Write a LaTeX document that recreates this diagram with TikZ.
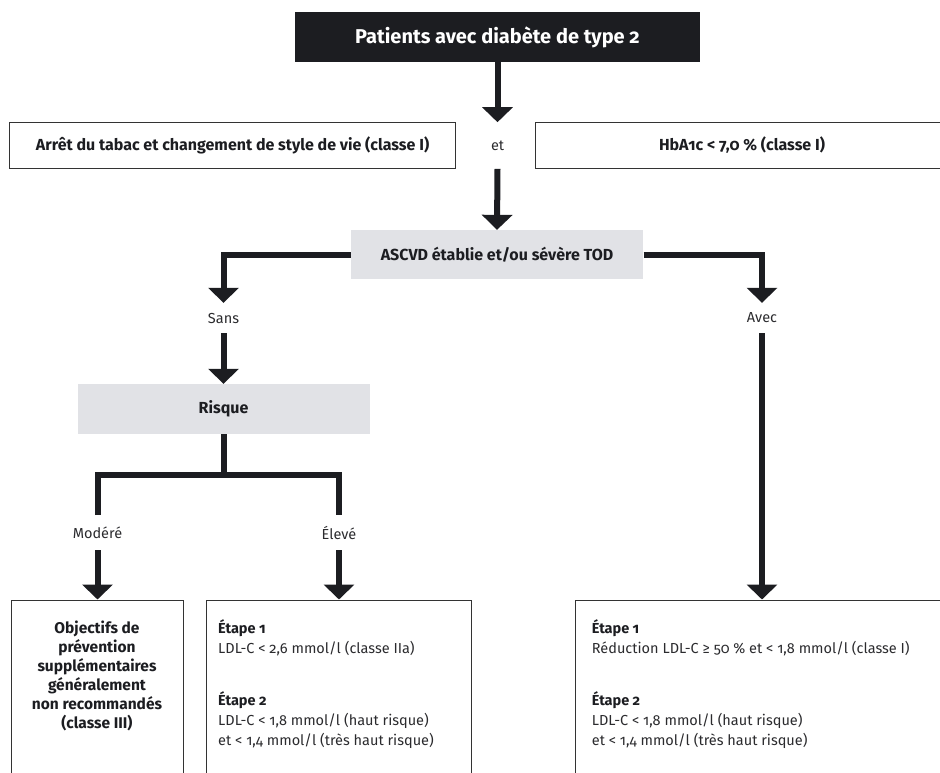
\documentclass[tikz,border=0pt]{standalone}
\usepackage{fontspec}
\setmainfont{Fira Sans}[Numbers={OldStyle,Proportional}]
\usetikzlibrary{arrows.meta}
\definecolor{ink}{HTML}{1C1D21}
\definecolor{txt}{HTML}{2B2B2E}
\definecolor{boxgray}{HTML}{E1E2E6}
\definecolor{edge}{HTML}{333333}
\begin{document}
\begin{tikzpicture}[x=1pt,y=-1pt,line join=miter,
  conn/.style={line width=6pt, draw=ink, -{Triangle[width=30pt,length=15pt]}},
  bar/.style={line width=6pt, draw=ink},
  wbox/.style={draw=edge, line width=1pt, fill=white, inner sep=0pt},
  gbox/.style={fill=boxgray, inner sep=0pt, text=ink, font=\bfseries\fontsize{16}{18}\selectfont},
  boldtxt/.style={text=ink, font=\bfseries\fontsize{16}{18}\selectfont},
  lbl/.style={inner sep=0pt, minimum height=30pt, text=txt, font=\fontsize{14.5}{17}\selectfont},
  body/.style={inner sep=0pt, align=left, text=txt, font=\fontsize{14.5}{19.8}\selectfont},
  ]
\useasboundingbox (0,0) rectangle (940,772);
\clip (0,0) rectangle (940,772);
% boxes
\node[fill=ink, inner sep=0pt, minimum width=405pt, minimum height=50pt, text=white,
  font=\bfseries\fontsize{20}{22}\selectfont] (title) at (497.5,37) {Patients avec diabète de type 2};
\node[wbox, boldtxt, minimum width=446pt, minimum height=45.6pt] (lbox) at (232.6,145.5)
  {Arrêt du tabac et changement de style de vie (classe I)};
\node[lbl] (et) at (497.6,145.5) {et};
\node[wbox, boldtxt, minimum width=414pt, minimum height=45.6pt] (rbox) at (742,145.5)
  {HbA1c < 7,0 \% (classe I)};
\node[gbox, minimum width=292.6pt, minimum height=49.3pt] (ascvd) at (497,254.7)
  {ASCVD établie et/ou sévère TOD};
\node[lbl] (sans) at (223.5,318) {Sans};
\node[lbl] (avec) at (762,318) {Avec};
\node[gbox, minimum width=292pt, minimum height=50pt] (risque) at (223.5,409) {Risque};
\coordinate (split) at (223.5,475);
\node[lbl, minimum height=35pt] (modere) at (97.5,532.7) {Modéré};
\node[lbl, minimum height=35pt] (eleve) at (339,532.7) {Élevé};
\node[wbox, minimum width=172pt, minimum height=190pt] (lb) at (97,695) {};
\node[wbox, minimum width=264.3pt, minimum height=190pt] (mb) at (338.85,695) {};
\node[wbox, minimum width=384.3pt, minimum height=190pt] (rb) at (767.85,695) {};
% box texts
\node[boldtxt, align=center, inner sep=0pt, font=\bfseries\fontsize{15.5}{19}\selectfont] (lbt) at (97,675.5)
  {Objectifs de\\prévention\\supplémentaires\\généralement\\non recommandés\\(classe III)};
\node[body, anchor=west] (m1) at (218,637.75) {\textbf{\color{ink}Étape 1}\\LDL-C < 2,6 mmol/l (classe IIa)};
\node[body, anchor=west] (m2) at (218,720) {\textbf{\color{ink}Étape 2}\\LDL-C < 1,8 mmol/l (haut risque)\\et < 1,4 mmol/l (très haut risque)};
\node[body, anchor=west] (r1) at (591.7,637.75) {\textbf{\color{ink}Étape 1}\\Réduction LDL-C ≥ 50 \% et < 1,8 mmol/l (classe I)};
\node[body, anchor=west] (r2) at (591.7,720) {\textbf{\color{ink}Étape 2}\\LDL-C < 1,8 mmol/l (haut risque)\\et < 1,4 mmol/l (très haut risque)};
% connectors
\draw[conn] (title.south) -- (title.south |- lbox.north);
\draw[conn] (title.south |- lbox.south) -- (ascvd.north);
\draw[conn] (ascvd.west) -| (sans.north);
\draw[conn] (ascvd.east) -| (avec.north);
\draw[conn] (sans.south) -- (risque.north);
\draw[bar] (risque.south) -- (split);
\draw[bar] (modere.north) |- (split) -| (eleve.north);
\draw[conn] (modere.south) -- (modere.south |- lb.north);
\draw[conn] (eleve.south) -- (eleve.south |- mb.north);
\draw[conn] (avec.south) -- (avec.south |- rb.north);
\end{tikzpicture}
\end{document}
